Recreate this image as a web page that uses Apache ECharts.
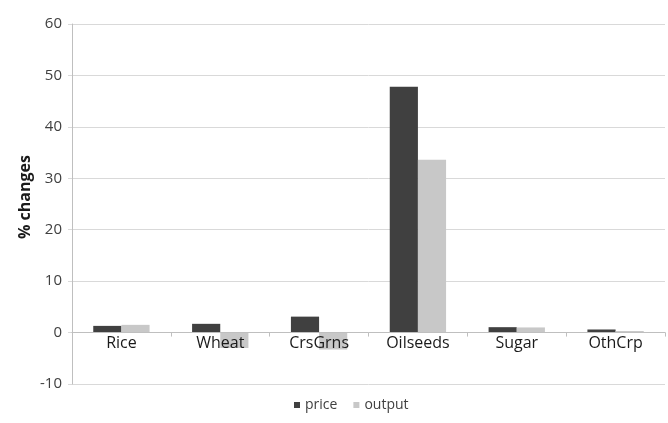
<!DOCTYPE html>
<html>
<head>
<meta charset="utf-8">
<script src="https://cdn.jsdelivr.net/npm/echarts@6/dist/echarts.min.js"></script>
<style>
  html, body { margin: 0; padding: 0; background: #fff; }
  #chart { width: 668px; height: 423px; }
</style>
</head>
<body>
<div id="chart"></div>
<script>
// Crop categories and simulated % changes
const categories = ['Rice', 'Wheat', 'CrsGrns', 'Oilseeds', 'Sugar', 'OthCrp'];
const priceValues = [1.3, 1.7, 3.1, 47.8, 1.05, 0.6];
const outputValues = [1.5, -3.0, -3.3, 33.6, 1.0, 0.3];
const yTicks = { min: -10, max: 60, interval: 10 };

const font = '"Open Sans", "Liberation Sans", sans-serif';
const gridTop = 24;
const gridBottom = 39;
const chartHeight = 423;

// category labels sit just under the zero line, so shift them up from the grid bottom
const plotHeight = chartHeight - gridTop - gridBottom;
const zeroOffset = plotHeight * (0 - yTicks.min) / (yTicks.max - yTicks.min);

const chart = echarts.init(document.getElementById('chart'));
chart.setOption({
  animation: false,
  grid: { left: 72, right: 3, top: gridTop, bottom: gridBottom, containLabel: false },
  legend: {
    data: ['price', 'output'],
    bottom: 11,
    left: 294,
    padding: 0,
    itemWidth: 6,
    itemHeight: 6,
    itemGap: 16,
    icon: 'rect',
    textStyle: { fontFamily: font, fontSize: 14, color: '#404040' }
  },
  xAxis: {
    type: 'category',
    data: categories,
    z: 5,
    axisLine: { onZero: true, lineStyle: { color: '#bfbfbf', width: 1 } },
    axisTick: { show: true, length: 4, inside: false, lineStyle: { color: '#bfbfbf' } },
    axisLabel: { fontFamily: font, fontSize: 16, color: '#1a1a1a', margin: -(zeroOffset - 3) },
    splitLine: { show: false }
  },
  yAxis: {
    type: 'value',
    min: yTicks.min,
    max: yTicks.max,
    interval: yTicks.interval,
    name: '% changes',
    nameLocation: 'middle',
    nameGap: 39,
    nameMoveOverlap: false,
    nameTextStyle: { fontFamily: font, fontSize: 16, fontWeight: 'bold', color: '#1a1a1a', padding: [0, 0, 0, 14] },
    axisLine: { show: true, lineStyle: { color: '#bfbfbf' } },
    axisTick: { show: true, length: 4, lineStyle: { color: '#d9d9d9' } },
    axisLabel: { fontFamily: font, fontSize: 15, color: '#404040', margin: 10 },
    splitLine: { show: true, lineStyle: { color: '#d9d9d9', width: 1 } }
  },
  series: [
    {
      name: 'price',
      type: 'bar',
      data: priceValues,
      itemStyle: { color: '#404040' },
      barGap: '0%',
      barCategoryGap: '43%'
    },
    {
      name: 'output',
      type: 'bar',
      data: outputValues,
      itemStyle: { color: '#c8c8c8' },
      barGap: '0%',
      barCategoryGap: '43%'
    }
  ]
});
</script>
</body>
</html>
